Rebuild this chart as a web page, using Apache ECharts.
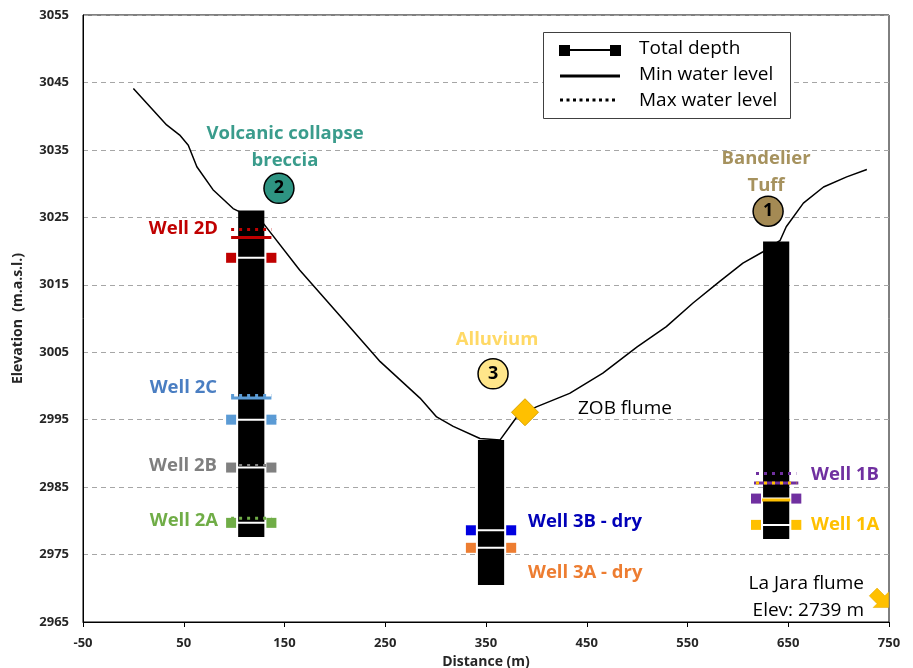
<!DOCTYPE html>
<html><head><meta charset="utf-8">
<script src="https://cdn.jsdelivr.net/npm/echarts@6/dist/echarts.min.js"></script>
<style>html,body{margin:0;padding:0;background:#fff}#c{width:913px;height:668px}</style>
</head><body><div id="c"></div>
<script>
// ---------------- DATA ----------------
const xTickLabels = [-50, 50, 150, 250, 350, 450, 550, 650, 750];
const yTickLabels = [2965, 2975, 2985, 2995, 3005, 3015, 3025, 3035, 3045, 3055];

// terrain profile (distance m, elevation m.a.s.l.)
const profileDist = [0, 16.5, 33, 46, 54.5, 63, 79, 99, 129, 165, 205, 245, 284.5, 301, 317.5, 344, 364, 380.5, 400, 433, 466, 500, 529, 555.5, 582, 605, 625, 642, 648, 665, 685, 708, 728];
const profileElev = [3044.1, 3041.4, 3038.7, 3037.2, 3035.7, 3032.5, 3029.1, 3026.3, 3024.1, 3017.2, 3010.4, 3003.6, 2998.2, 2995.4, 2994.0, 2992.2, 2992.0, 2995.4, 2996.9, 2998.9, 3001.9, 3005.8, 3008.8, 3012.3, 3015.5, 3018.2, 3019.9, 3021.6, 3023.6, 3027.1, 3029.5, 3031.0, 3032.1];

// boreholes
const boreNames = ['Site 1', 'Site 2', 'Site 3'];
const boreDist = [638, 117, 355];
const boreTop = [3021.4, 3026.0, 2992.0];
const boreBottom = [2977.3, 2977.6, 2970.5];

// piezometers
const wellNames = ['Well 1A', 'Well 1B', 'Well 2A', 'Well 2B', 'Well 2C', 'Well 2D', 'Well 3A - dry', 'Well 3B - dry'];
const wellBore = [0, 0, 1, 1, 1, 1, 2, 2];
const totalDepth = [2979.4, 2983.3, 2979.7, 2987.9, 2995.0, 3019.0, 2976.0, 2978.6];
const minWater = [2983.1, 2985.6, null, null, 2998.2, 3022.0, null, null];
const maxWater = [2985.6, 2987.0, 2980.4, 2988.2, 2998.6, 3023.2, null, null];

// ---------------- STYLE / LAYOUT ----------------
const wellColors = ['#FFC000', '#7030A0', '#70AD47', '#808080', '#5B9BD5', '#C00000', '#ED7D31', '#0000E0'];
const labelColors = ['#FFC000', '#7030A0', '#70AD47', '#7F7F7F', '#4A7EC2', '#C00000', '#ED7D31', '#0000B8'];
const minHalf = [14, 22, 20, 20, 20, 20, 20, 20];
const BAR_HALF = 13, MARK_HALF = 20;
const X = d => d + 50;          // axis runs 0..800, labelled -50..750
const Y = e => e - 2965;        // axis runs 0..90, labelled 2965..3055
const FONT = '"Open Sans", "Noto Sans", sans-serif';

const annotations = [
  {t: 'Volcanic collapse\nbreccia', d: 150.5, e: 3035.4, c: '#3A9C8C', a: 'center', bold: true},
  {t: 'Alluvium', d: 361, e: 3006.8, c: '#FFD966', a: 'center', bold: true},
  {t: 'Bandelier\nTuff', d: 628, e: 3031.7, c: '#A6925E', a: 'center', bold: true},
  {t: 'ZOB flume', d: 441.3, e: 2996.6, c: '#000', a: 'left', bold: false},
  {t: 'La Jara flume\nElev: 2739 m', d: 725.2, e: 2968.7, c: '#000', a: 'right', bold: false},
  {t: wellNames[5], d: 84, e: 3023.3, c: labelColors[5], a: 'right', bold: true},
  {t: wellNames[4], d: 83, e: 2999.7, c: labelColors[4], a: 'right', bold: true},
  {t: wellNames[3], d: 83, e: 2988.1, c: labelColors[3], a: 'right', bold: true},
  {t: wellNames[2], d: 84, e: 2980.0, c: labelColors[2], a: 'right', bold: true},
  {t: wellNames[7], d: 391.7, e: 2979.8, c: labelColors[7], a: 'left', bold: true},
  {t: wellNames[6], d: 391.7, e: 2972.3, c: labelColors[6], a: 'left', bold: true},
  {t: wellNames[1], d: 672.6, e: 2986.8, c: labelColors[1], a: 'left', bold: true},
  {t: wellNames[0], d: 672.6, e: 2979.4, c: labelColors[0], a: 'left', bold: true}
];
const circles = [
  {t: '1', d: 630, e: 3025.9, c: '#A48A54'},
  {t: '2', d: 144.5, e: 3029.3, c: '#2E9482'},
  {t: '3', d: 357, e: 3001.8, c: '#FFE68A'}
];

// ---------------- SERIES ----------------
const series = [];
series.push({
  name: 'Terrain', type: 'line', z: 2, silent: true,
  data: profileDist.map((d, i) => [X(d), Y(profileElev[i])]),
  showSymbol: false, symbol: 'none',
  lineStyle: {color: '#000', width: 1.5}
});
series.push({
  name: 'Boreholes', type: 'custom', z: 3,
  data: boreDist.map((d, i) => [X(d), Y(boreTop[i]), Y(boreBottom[i])]),
  encode: {x: 0, y: [1, 2]},
  renderItem: (params, api) => {
    const x = api.value(0);
    const p1 = api.coord([x - BAR_HALF, api.value(1)]);
    const p2 = api.coord([x + BAR_HALF, api.value(2)]);
    return {type: 'rect', shape: {x: p1[0], y: p1[1], width: p2[0] - p1[0], height: p2[1] - p1[1]}, style: {fill: '#000'}};
  }
});
wellNames.forEach((n, i) => {
  const x = X(boreDist[wellBore[i]]);
  series.push({
    name: n + ' total depth', type: 'line', z: 5,
    data: [[x - MARK_HALF, Y(totalDepth[i])], [x + MARK_HALF, Y(totalDepth[i])]],
    symbol: 'rect', symbolSize: 10, showSymbol: true,
    itemStyle: {color: wellColors[i], opacity: 1},
    lineStyle: {color: '#fff', width: 2}
  });
  if (minWater[i] != null) series.push({
    name: n + ' min water', type: 'line', z: 6, symbol: 'none',
    data: [[x - minHalf[i], Y(minWater[i])], [x + minHalf[i], Y(minWater[i])]],
    lineStyle: {color: wellColors[i], width: 3}
  });
  if (maxWater[i] != null) series.push({
    name: n + ' max water', type: 'line', z: 7, symbol: 'none',
    data: [[x - MARK_HALF, Y(maxWater[i])], [x + MARK_HALF, Y(maxWater[i])]],
    lineStyle: {color: wellColors[i], width: 3, type: [3, 5]}
  });
});
series.push({
  name: 'Units', type: 'scatter', z: 8, symbol: 'circle', symbolSize: 30,
  data: circles.map(c => ({value: [X(c.d), Y(c.e)], itemStyle: {color: c.c, borderColor: '#000', borderWidth: 1.5, opacity: 1},
    label: {show: true, position: 'inside', formatter: c.t, color: '#000', fontSize: 18, fontWeight: 'bold', fontFamily: FONT}}))
});
series.push({
  name: 'ZOB flume', type: 'scatter', z: 8, symbol: 'diamond', symbolSize: [27, 27],
  data: [[X(388.7), Y(2996.1)]],
  itemStyle: {color: '#FFC000', borderColor: '#D9A400', borderWidth: 1, opacity: 1}
});
series.push({
  name: 'La Jara flume', type: 'scatter', z: 8,
  symbol: 'path://M0,5 L10,5 L10,0 L20,10 L10,20 L10,15 L0,15 Z', symbolSize: 22, symbolRotate: -45,
  data: [[X(742), Y(2968.3)]],
  itemStyle: {color: '#FFC000', borderColor: '#E0A800', borderWidth: 0.5, opacity: 1}
});
series.push({
  name: 'Annotations', type: 'scatter', z: 9, symbolSize: 1,
  itemStyle: {color: 'rgba(0,0,0,0)', opacity: 1},
  data: annotations.map(a => ({value: [X(a.d), Y(a.e)],
    label: {show: true, position: 'inside', formatter: a.t, align: a.a, verticalAlign: 'middle',
      color: a.c, fontSize: a.bold ? 18.5 : 19, lineHeight: 26.5, fontWeight: a.bold ? 'bold' : 'normal', fontFamily: FONT}}))
});

// ---------------- LEGEND (graphic) ----------------
const legendRows = [['Total depth', 49], ['Min water level', 75], ['Max water level', 101]];
const graphic = [
  {type: 'rect', shape: {x: 543.5, y: 32.5, width: 247, height: 86}, style: {fill: '#fff', stroke: '#404040', lineWidth: 1}, z: 100},
  {type: 'line', shape: {x1: 565, y1: 50, x2: 615, y2: 50}, style: {stroke: '#000', lineWidth: 2}, z: 101},
  {type: 'rect', shape: {x: 559, y: 45, width: 11, height: 11}, style: {fill: '#000'}, z: 101},
  {type: 'rect', shape: {x: 610, y: 45, width: 11, height: 11}, style: {fill: '#000'}, z: 101},
  {type: 'line', shape: {x1: 560, y1: 76, x2: 620, y2: 76}, style: {stroke: '#000', lineWidth: 3}, z: 101},
  {type: 'line', shape: {x1: 560, y1: 100, x2: 618, y2: 100}, style: {stroke: '#000', lineWidth: 3, lineDash: [3, 3.5]}, z: 101}
];
legendRows.forEach(r => graphic.push({type: 'text', x: 639, y: r[1], z: 101,
  style: {text: r[0], fill: '#000', font: '19px ' + FONT, textVerticalAlign: 'middle', verticalAlign: 'middle'}}));

// ---------------- OPTION ----------------
const option = {
  animation: false,
  backgroundColor: '#fff',
  grid: {left: 83, right: 24, top: 15, bottom: 46, show: true, borderColor: '#000', borderWidth: 1,
    containLabel: false, outerBoundsMode: 'none'},
  xAxis: {
    type: 'value', min: X(xTickLabels[0]), max: X(xTickLabels[xTickLabels.length - 1]), interval: 100,
    name: 'Distance (m)', nameLocation: 'middle', nameGap: 26,
    nameTextStyle: {fontWeight: 'bold', fontSize: 14, color: '#262626', fontFamily: FONT},
    axisLine: {show: true, lineStyle: {color: '#000', width: 1}},
    axisTick: {show: true, length: 5, lineStyle: {color: '#000'}},
    axisLabel: {formatter: v => String(v - 50), fontWeight: 'bold', fontSize: 13, color: '#262626', margin: 15, fontFamily: FONT},
    splitLine: {show: false}
  },
  yAxis: {
    type: 'value', min: Y(yTickLabels[0]), max: Y(yTickLabels[yTickLabels.length - 1]), interval: 10,
    name: 'Elevation  (m.a.s.l.)', nameLocation: 'middle', nameGap: 58,
    nameTextStyle: {fontWeight: 'bold', fontSize: 14, color: '#262626', fontFamily: FONT},
    axisLine: {show: true, lineStyle: {color: '#000', width: 1}},
    axisTick: {show: false},
    axisLabel: {formatter: v => String(v + 2965), fontWeight: 'bold', fontSize: 13, color: '#262626', margin: 14, fontFamily: FONT},
    splitLine: {show: true, lineStyle: {color: '#A6A6A6', width: 1, type: [5, 4]}}
  },
  series: series,
  graphic: graphic
};
const chart = echarts.init(document.getElementById('c'));
chart.setOption(option);
</script></body></html>
